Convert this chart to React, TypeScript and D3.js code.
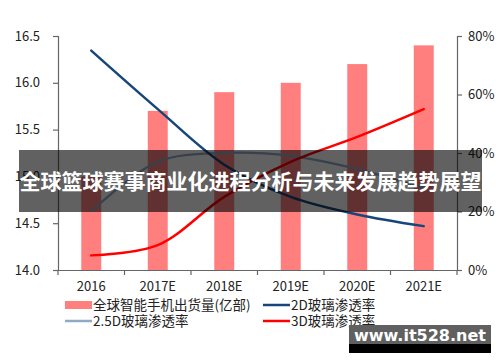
import React, { useEffect, useRef } from 'react';
import * as d3 from 'd3';

const width = 500;
const height = 362;

// chart data
const years = ['2016', '2017E', '2018E', '2019E', '2020E', '2021E'];
const shipments = [15.0, 15.7, 15.9, 16.0, 16.2, 16.4]; // 亿部
const rate2D = [0.75, 0.55, 0.36, 0.25, 0.19, 0.15];
const rate25D = [0.20, 0.37, 0.40, 0.39, 0.345, 0.28];
const rate3D = [0.05, 0.085, 0.25, 0.37, 0.455, 0.55];
const leftTicks = [14.0, 14.5, 15.0, 15.5, 16.0, 16.5];
const rightTicks = [0, 0.2, 0.4, 0.6, 0.8];

const title = '全球篮球赛事商业化进程分析与未来发展趋势展望';
const watermark = 'www.it528.net';

const legendItems = [
  { label: '全球智能手机出货量(亿部)', kind: 'bar', color: '#ff7f7f' },
  { label: '2D玻璃渗透率', kind: 'line', color: '#17467a' },
  { label: '2.5D玻璃渗透率', kind: 'line', color: '#8eaac4' },
  { label: '3D玻璃渗透率', kind: 'line', color: '#ff0000' },
];

const font = '"Noto Sans CJK SC", "Noto Sans", sans-serif';

export default function App() {
  const ref = useRef<SVGSVGElement>(null);

  useEffect(() => {
    const svg = d3.select(ref.current);
    svg.selectAll('*').remove();

    const left = 58, right = 457, top = 36, bottom = 270;

    const x = d3.scaleBand().domain(years).range([left, right]).padding(0);
    const yL = d3.scaleLinear().domain([14, 16.5]).range([bottom, top]);
    const yR = d3.scaleLinear().domain([0, 0.8]).range([bottom, top]);
    const cx = (d: string) => (x(d) as number) + x.bandwidth() / 2;
    const barW = x.bandwidth() * 0.3;

    // bars
    svg.append('g')
      .selectAll('rect')
      .data(shipments)
      .join('rect')
      .attr('x', (d, i) => cx(years[i]) - barW / 2)
      .attr('y', d => yL(d))
      .attr('width', barW)
      .attr('height', d => bottom - yL(d))
      .attr('fill', '#ff7f7f');

    // lines
    const line = d3.line<number>()
      .x((d, i) => cx(years[i]))
      .y(d => yR(d))
      .curve(d3.curveCatmullRom.alpha(0.5));

    const series = [
      { values: rate25D, color: '#8eaac4', w: 2.2 },
      { values: rate2D, color: '#17467a', w: 2.5 },
      { values: rate3D, color: '#ff0000', w: 2.5 },
    ];
    series.forEach(s => {
      svg.append('path')
        .attr('d', line(s.values))
        .attr('fill', 'none')
        .attr('stroke', s.color)
        .attr('stroke-width', s.w)
        .attr('stroke-linecap', 'round');
    });

    // axes
    const styleAxis = (g: any) => {
      g.select('.domain').attr('stroke', '#666').attr('stroke-width', 1.2);
      g.selectAll('.tick line').attr('stroke', '#666').attr('stroke-width', 1.2);
      g.selectAll('.tick text')
        .attr('fill', '#222')
        .style('font-family', font)
        .style('font-size', '13px');
    };

    svg.append('g')
      .attr('transform', `translate(${left},0)`)
      .call(d3.axisLeft(yL).tickValues(leftTicks).tickFormat(d3.format('.1f')).tickSizeOuter(0).tickSize(5).tickPadding(13))
      .call(styleAxis);

    svg.append('g')
      .attr('transform', `translate(${right},0)`)
      .call(d3.axisRight(yR).tickValues(rightTicks).tickFormat(d3.format('.0%')).tickSizeOuter(0).tickSize(5).tickPadding(6))
      .call(styleAxis);

    const xAxis = svg.append('g')
      .attr('transform', `translate(0,${bottom})`)
      .call(d3.axisBottom(x).tickSize(0).tickPadding(12))
      .call(styleAxis);
    // ticks on category boundaries
    xAxis.selectAll('line.bound')
      .data(d3.range(years.length + 1))
      .join('line')
      .attr('class', 'bound')
      .attr('x1', i => left + i * x.step())
      .attr('x2', i => left + i * x.step())
      .attr('y1', 0)
      .attr('y2', 5)
      .attr('stroke', '#666')
      .attr('stroke-width', 1.2);

    // legend
    const legPos = [
      { x: 65, y: 305 },
      { x: 263, y: 305 },
      { x: 65, y: 321 },
      { x: 263, y: 321 },
    ];
    legendItems.forEach((it, i) => {
      const p = legPos[i];
      if (it.kind === 'bar') {
        svg.append('rect').attr('x', p.x).attr('y', p.y - 4).attr('width', 27).attr('height', 8).attr('fill', it.color);
      } else {
        svg.append('line').attr('x1', p.x).attr('x2', p.x + 27).attr('y1', p.y).attr('y2', p.y)
          .attr('stroke', it.color).attr('stroke-width', 2.5);
      }
      svg.append('text')
        .attr('x', p.x + 28)
        .attr('y', p.y)
        .attr('dy', '0.35em')
        .attr('fill', '#222')
        .style('font-family', font)
        .style('font-size', '13.5px')
        .text(it.label);
    });

    // title banner
    svg.append('rect').attr('x', 19).attr('y', 150).attr('width', 463).attr('height', 62)
      .attr('fill', 'rgba(0,0,0,0.62)');
    svg.append('text')
      .attr('x', 250.5)
      .attr('y', 182)
      .attr('dy', '0.35em')
      .attr('text-anchor', 'middle')
      .attr('fill', '#fff')
      .style('font-family', font)
      .style('font-weight', 'bold')
      .style('font-size', '21px')
      .text(title);

    // watermark
    svg.append('rect').attr('x', 349).attr('y', 325).attr('width', 142).attr('height', 19).attr('fill', '#606060');
    svg.append('rect').attr('x', 349).attr('y', 344).attr('width', 142).attr('height', 9).attr('fill', '#000');
    svg.append('text')
      .attr('x', 420)
      .attr('y', 335)
      .attr('dy', '0.35em')
      .attr('text-anchor', 'middle')
      .attr('fill', '#fff')
      .style('font-family', '"DejaVu Sans", sans-serif')
      .style('font-weight', 'bold')
      .style('font-size', '16px')
      .text(watermark);
  }, []);

  return (
    <svg
      ref={ref}
      width={width}
      height={height}
      style={{ position: 'absolute', left: 0, top: 0, background: '#fff' }}
    />
  );
}
